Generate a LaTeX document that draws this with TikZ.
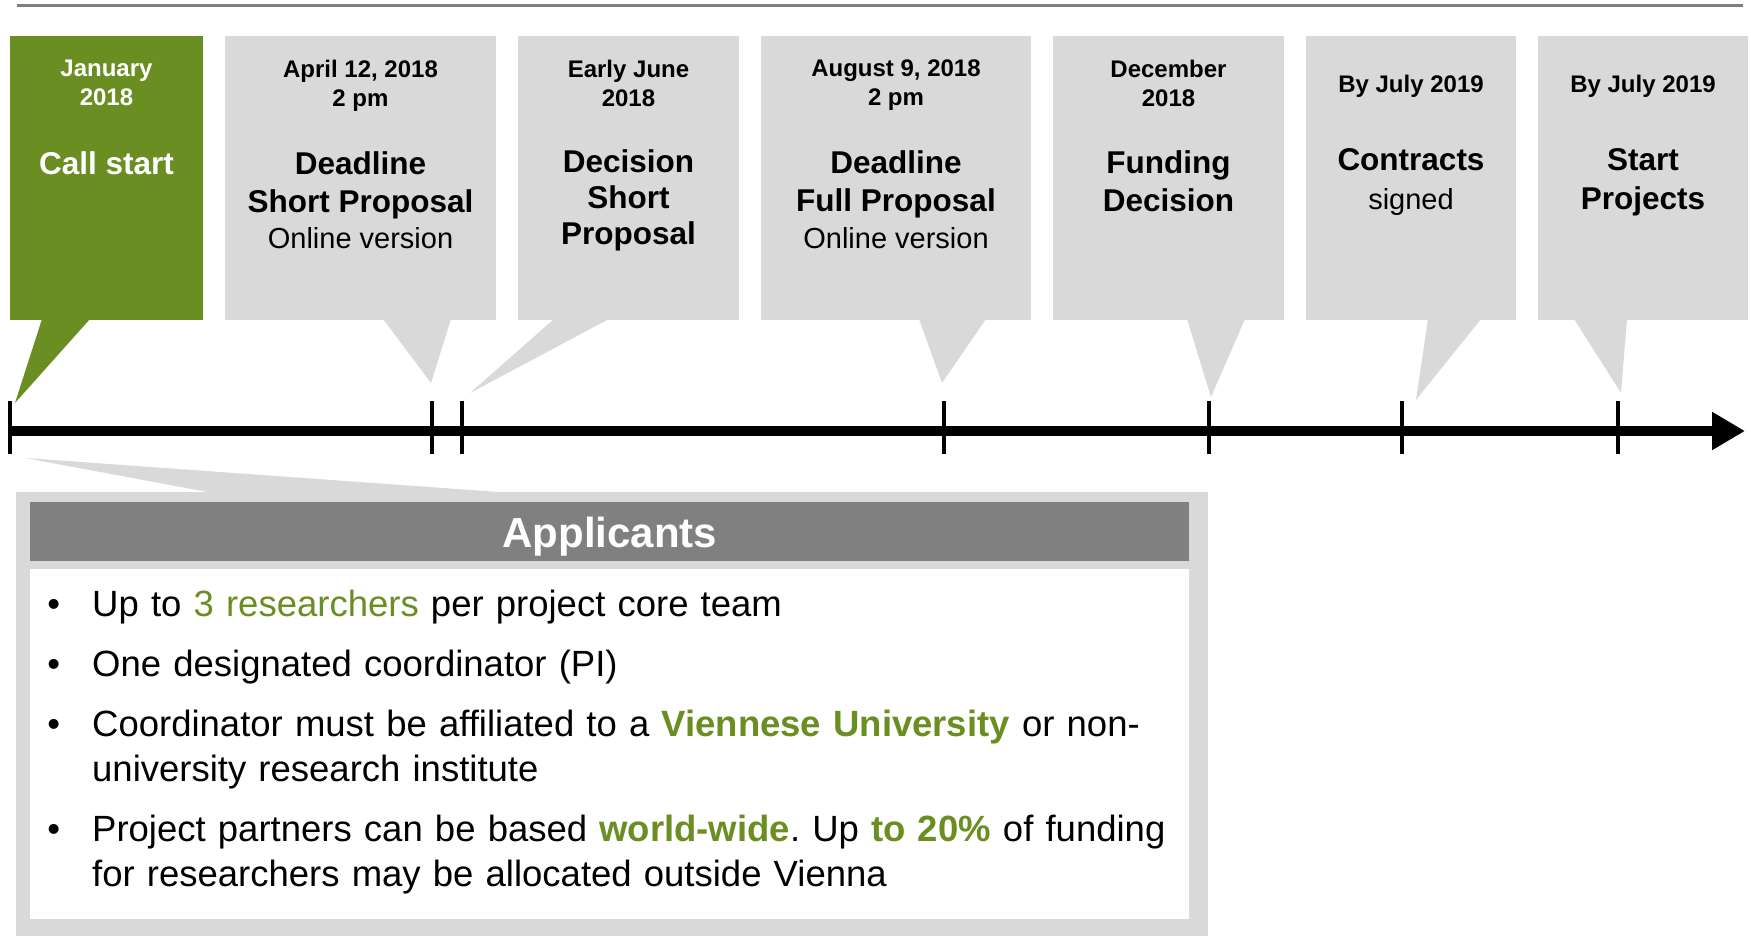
\documentclass[tikz,border=0pt]{standalone}
\usepackage{fontspec}
\setmainfont{Liberation Sans}
\usepackage{enumitem}
\usetikzlibrary{arrows.meta, positioning}

\definecolor{leafgreen}{HTML}{6B8E23}
\definecolor{boxgray}{HTML}{D9D9D9}
\definecolor{headgray}{HTML}{808080}
\definecolor{rulegray}{HTML}{7F7F7F}

\begin{document}
\frenchspacing
\begin{tikzpicture}[x=1pt, y=-1pt,
    stage/.style={rectangle, fill=boxgray, inner sep=0pt, outer sep=0pt,
        anchor=north west, minimum height=284pt},
    datetext/.style={anchor=north, inner sep=0pt, align=center,
        font=\bfseries\fontsize{24}{29}\selectfont},
    titletext/.style={anchor=north, inner sep=0pt, align=center,
        font=\bfseries\fontsize{31.5}{38}\selectfont},
    notetext/.style={anchor=north, inner sep=0pt, align=center,
        font=\fontsize{29}{35}\selectfont},
    tickmark/.style={line width=4pt}]

        \useasboundingbox (0,0) rectangle (1751,936);

        \coordinate (rule_l) at (17,6);
        \coordinate (rule_r) at (1743,6);
        \draw[rulegray, line width=3pt] (rule_l) -- (rule_r);

        % milestones
        \node[stage, fill=leafgreen, minimum width=193pt] (m_1) at (10,36) {};
        \node[stage, minimum width=271pt] (m_2) [right=22pt of m_1] {};
        \node[stage, minimum width=221pt] (m_3) [right=22pt of m_2] {};
        \node[stage, minimum width=270pt] (m_4) [right=22pt of m_3] {};
        \node[stage, minimum width=231pt] (m_5) [right=22pt of m_4] {};
        \node[stage, minimum width=210pt] (m_6) [right=22pt of m_5] {};
        \node[stage, minimum width=210pt] (m_7) [right=22pt of m_6] {};

        \node[datetext, text=white] (d_1) [below=24pt of m_1.north] {January\\2018};
        \node[titletext, text=white] (t_1) [below=115pt of m_1.north] {Call start};

        \node[datetext] (d_2) [below=24pt of m_2.north] {April 12, 2018\\2 pm};
        \node[titletext] (t_2) [below=115pt of m_2.north] {Deadline\\Short Proposal};
        \node[notetext] (n_2) [below=191pt of m_2.north] {Online version};

        \node[datetext] (d_3) [below=24pt of m_3.north] {Early June\\2018};
        \node[titletext] (t_3) [below=113pt of m_3.north] {Decision\\[-2pt]Short\\[-2pt]Proposal};

        \node[datetext] (d_4) [below=24pt of m_4.north] {August 9, 2018\\2 pm};
        \node[titletext] (t_4) [below=114pt of m_4.north] {Deadline\\Full Proposal};
        \node[notetext] (n_4) [below=191pt of m_4.north] {Online version};

        \node[datetext] (d_5) [below=24pt of m_5.north] {December\\2018};
        \node[titletext] (t_5) [below=114pt of m_5.north] {Funding\\Decision};

        \node[datetext] (d_6) [below=39pt of m_6.north] {By July 2019};
        \node[titletext] (t_6) [below=112pt of m_6.north] {Contracts};
        \node[notetext] (n_6) [below=152pt of m_6.north] {signed};

        \node[datetext] (d_7) [below=39pt of m_7.north] {By July 2019};
        \node[titletext] (t_7) [below=112pt of m_7.north] {Start\\[1pt]Projects};

        % pointers
        \coordinate (p_1) at (15,403);
        \coordinate (p_2) at (431,383);
        \coordinate (p_3) at (470,393);
        \coordinate (p_4) at (942,383);
        \coordinate (p_5) at (1211,397);
        \coordinate (p_6) at (1416,400);
        \coordinate (p_7) at (1621,393);

        \fill[leafgreen] ([xshift=32pt, yshift=1pt]m_1.south west) -- (p_1) -- ([xshift=80pt, yshift=1pt]m_1.south west) -- cycle;
        \fill[boxgray] ([xshift=158pt, yshift=1pt]m_2.south west) -- (p_2) -- ([xshift=226pt, yshift=1pt]m_2.south west) -- cycle;
        \fill[boxgray] ([xshift=36pt, yshift=1pt]m_3.south west) -- (p_3) -- ([xshift=91pt, yshift=1pt]m_3.south west) -- cycle;
        \fill[boxgray] ([xshift=158pt, yshift=1pt]m_4.south west) -- (p_4) -- ([xshift=225pt, yshift=1pt]m_4.south west) -- cycle;
        \fill[boxgray] ([xshift=134pt, yshift=1pt]m_5.south west) -- (p_5) -- ([xshift=192pt, yshift=1pt]m_5.south west) -- cycle;
        \fill[boxgray] ([xshift=122pt, yshift=1pt]m_6.south west) -- (p_6) -- ([xshift=175pt, yshift=1pt]m_6.south west) -- cycle;
        \fill[boxgray] ([xshift=36pt, yshift=1pt]m_7.south west) -- (p_7) -- ([xshift=89pt, yshift=1pt]m_7.south west) -- cycle;

        % time line
        \coordinate (tl_start) at (10,431);
        \coordinate (tl_end) at (1745,431);
        \draw[line width=10pt, -{Triangle[length=33pt, width=36pt]}] (tl_start) -- (tl_end);

        \coordinate (k_1) at (10,431);
        \coordinate (k_2) at (432,431);
        \coordinate (k_3) at (462,431);
        \coordinate (k_4) at (944,431);
        \coordinate (k_5) at (1209,431);
        \coordinate (k_6) at (1402,431);
        \coordinate (k_7) at (1618,431);

        \draw[tickmark] ([yshift=30pt]k_1) -- ([yshift=-23pt]k_1);
        \draw[tickmark] ([yshift=30pt]k_2) -- ([yshift=-23pt]k_2);
        \draw[tickmark] ([yshift=30pt]k_3) -- ([yshift=-23pt]k_3);
        \draw[tickmark] ([yshift=30pt]k_4) -- ([yshift=-23pt]k_4);
        \draw[tickmark] ([yshift=30pt]k_5) -- ([yshift=-23pt]k_5);
        \draw[tickmark] ([yshift=30pt]k_6) -- ([yshift=-23pt]k_6);
        \draw[tickmark] ([yshift=30pt]k_7) -- ([yshift=-23pt]k_7);

        % applicants
        \node[stage, minimum width=1192pt, minimum height=444pt] (appbox) at (16,492) {};

        \coordinate (p_app) at (25,458);
        \fill[boxgray] (p_app) -- ([xshift=197pt, yshift=-1pt]appbox.north west) -- ([xshift=497pt, yshift=-1pt]appbox.north west) -- cycle;

        \node[rectangle, fill=headgray, text=white, inner sep=0pt, anchor=north west,
            minimum width=1159pt, text height=45pt, text depth=14pt,
            font=\bfseries\fontsize{42}{50}\selectfont] (apphead) at (30,502) {Applicants};

        \node[rectangle, fill=white, inner sep=0pt, anchor=north west,
            minimum width=1159pt, minimum height=350pt] (appbody) at (30,569) {};

        \node[anchor=north west, inner sep=0pt, text width=1150pt,
            font=\fontsize{36.5}{45}\selectfont] (appitems) at (50,571)
            {\raggedright\frenchspacing
            \begin{itemize}[leftmargin=42pt, labelsep=32pt, itemsep=15pt, parsep=0pt, topsep=0pt, partopsep=0pt]
            \item Up to \textcolor{leafgreen}{3 researchers} per project core team
            \item One designated coordinator (PI)
            \item Coordinator must be affiliated to a \textcolor{leafgreen}{\bfseries Viennese University} or non-\newline university research institute
            \item Project partners can be based \textcolor{leafgreen}{\bfseries world-wide}. Up \textcolor{leafgreen}{\bfseries to 20\%} of funding\newline for researchers may be allocated outside Vienna
            \end{itemize}
            };

    \end{tikzpicture}
\end{document}
